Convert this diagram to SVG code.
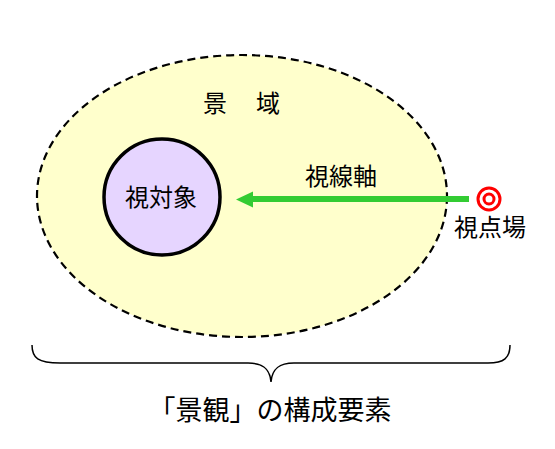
<svg xmlns="http://www.w3.org/2000/svg" width="555" height="449" viewBox="0 0 555 449">
<style>
text{font-family:"Noto Sans CJK JP","Noto Sans CJK SC",sans-serif;fill:#000;text-anchor:middle}
.l{font-size:24px}
</style>
<rect width="555" height="449" fill="#fff"/>
<g id="keiiki">
<ellipse cx="242" cy="196" rx="205" ry="141" fill="#ffffcc" stroke="#000" stroke-width="2.2" stroke-dasharray="8,5"/>
<text class="l" x="215" y="112">景</text>
<text class="l" x="268" y="112">域</text>
</g>
<g id="shitaisho">
<circle cx="162" cy="197" r="58" fill="#e6d5ff" stroke="#000" stroke-width="3.5"/>
<text class="l" x="161" y="206">視対象</text>
</g>
<g id="connectors">
<line x1="469" y1="199" x2="250" y2="199" stroke="#3c3" stroke-width="6"/>
<polygon points="236,199.5 253,191.5 253,207.5" fill="#3c3"/>
<text class="l" x="341" y="185">視線軸</text>
</g>
<g id="shitenba">
<circle cx="489" cy="199" r="11" fill="#fff" stroke="#f00" stroke-width="3"/>
<circle cx="489" cy="199" r="5" fill="#fff" stroke="#f00" stroke-width="3"/>
<text class="l" x="490" y="236">視点場</text>
</g>
<g id="brace">
<path d="M32,345 C32,358 38,363 60,363 L248,363 C262,363 270,368 271,382 C272,368 280,363 294,363 L488,363 C504,363 510,358 510,345" fill="none" stroke="#000" stroke-width="1.5"/>
<text x="270" y="420" font-size="27px">「景観」の構成要素</text>
</g>
</svg>
